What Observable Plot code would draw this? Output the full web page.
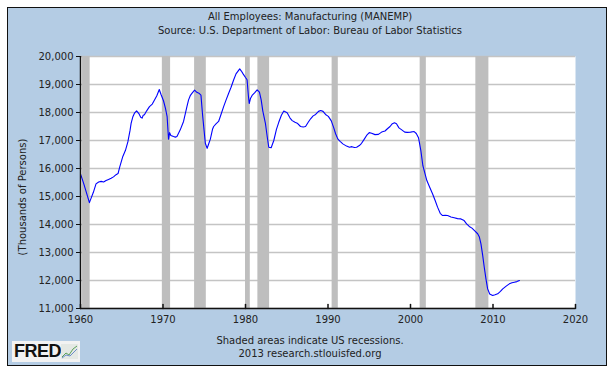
<!DOCTYPE html>
<html><head><meta charset="utf-8">
<script src="https://cdn.jsdelivr.net/npm/d3@7"></script>
<script src="https://cdn.jsdelivr.net/npm/@observablehq/plot@0.6"></script>
<style>
body{margin:0;background:#fff;font-family:"DejaVu Sans",sans-serif;}
#wrap{position:relative;width:615px;height:375px;overflow:hidden;}
#panel{position:absolute;left:7px;top:7px;width:598px;height:357px;border:1px solid #111;background:#b4cce4;}
.t{position:absolute;left:7px;width:606px;text-align:center;font-size:10px;color:#222;line-height:12px;}
#chart{position:absolute;left:0;top:0;}
#ylab{position:absolute;left:22px;top:197px;transform:translate(-50%,-50%) rotate(-90deg);font-size:10px;color:#222;white-space:nowrap;}
#logo{position:absolute;left:12px;top:341px;width:68px;height:21px;background:#f2f2f2;}
#logo span{position:absolute;left:2px;top:0;font-family:"Liberation Sans",Arial,sans-serif;font-weight:bold;font-size:18px;line-height:21px;letter-spacing:-0.5px;color:#111;}
#logo svg{position:absolute;left:49px;top:3px;}
</style></head>
<body>
<div id="wrap">
  <div id="panel"></div>
  <div class="t" style="top:11px">All Employees: Manufacturing (MANEMP)</div>
  <div class="t" style="top:25px">Source: U.S. Department of Labor: Bureau of Labor Statistics</div>
  <div id="ylab">(Thousands of Persons)</div>
  <div id="chart"></div>
  <div class="t" style="top:335px">Shaded areas indicate US recessions.</div>
  <div class="t" style="top:348px">2013 research.stlouisfed.org</div>
  <div id="logo"><span>FRED</span><svg width="17" height="15" viewBox="0 0 17 15"><rect x="0" y="0" width="17" height="15" fill="#e4e8e4"/><polyline points="1,13 5,9 8,11 12,5 16,2" fill="none" stroke="#5aa05a" stroke-width="1"/><polyline points="1,14 5,11 9,12 13,8 16,5" fill="none" stroke="#6a8cc8" stroke-width="1"/></svg></div>
</div>
<script>
const years = [1960.0,1960.4,1960.8,1961.08,1961.3,1961.56,1961.88,1962.2,1962.5,1962.8,1963.1,1963.4,1963.71,1964.0,1964.31,1964.55,1964.75,1965.13,1965.45,1965.74,1966.0,1966.14,1966.35,1966.54,1966.8,1967.1,1967.3,1967.47,1967.6,1967.75,1968.0,1968.36,1968.7,1968.97,1969.25,1969.55,1969.75,1970.06,1970.3,1970.5,1970.67,1970.8,1970.95,1971.28,1971.5,1971.69,1972.09,1972.49,1972.7,1972.9,1973.1,1973.3,1973.55,1973.83,1974.1,1974.35,1974.6,1974.8,1974.95,1975.13,1975.35,1975.5,1975.74,1976.0,1976.14,1976.45,1976.74,1977.0,1977.35,1977.65,1977.96,1978.25,1978.57,1978.85,1979.05,1979.3,1979.5,1979.71,1980.0,1980.19,1980.35,1980.45,1980.6,1980.8,1981.1,1981.41,1981.69,1981.9,1982.1,1982.42,1982.65,1982.82,1983.11,1983.43,1983.75,1984.03,1984.35,1984.64,1985.05,1985.4,1985.66,1986.0,1986.27,1986.67,1987.0,1987.28,1987.6,1987.89,1988.2,1988.5,1988.85,1989.11,1989.4,1989.7,1990.04,1990.4,1990.7,1990.92,1991.2,1991.5,1991.8,1992.25,1992.6,1992.9,1993.2,1993.47,1993.8,1994.07,1994.4,1994.68,1995.0,1995.29,1995.7,1996.11,1996.5,1996.91,1997.2,1997.52,1997.8,1998.06,1998.3,1998.6,1998.94,1999.3,1999.6,2000.0,2000.44,2000.7,2000.97,2001.25,2001.5,2001.98,2002.3,2002.67,2003.0,2003.28,2003.6,2003.89,2004.2,2004.5,2004.9,2005.3,2005.7,2006.11,2006.5,2006.8,2007.12,2007.45,2007.73,2008.14,2008.35,2008.54,2008.75,2008.94,2009.15,2009.35,2009.6,2009.96,2010.25,2010.57,2010.9,2011.18,2011.6,2011.98,2012.3,2012.59,2012.9,2013.2];
const employment = [15810,15450,15060,14780,14950,15150,15450,15520,15540,15520,15570,15610,15650,15700,15780,15820,16050,16430,16650,16950,17350,17620,17850,17975,18060,17950,17830,17800,17900,17920,18050,18210,18300,18450,18600,18820,18650,18420,18150,17850,17050,17280,17180,17140,17120,17140,17380,17680,17950,18210,18450,18600,18700,18800,18720,18690,18620,17900,17450,16900,16720,16850,17050,17400,17500,17600,17680,17900,18210,18450,18690,18900,19170,19380,19460,19560,19480,19380,19250,19170,18600,18320,18500,18610,18700,18810,18725,18450,18050,17600,17100,16760,16740,17000,17400,17650,17900,18050,17990,17800,17710,17650,17620,17500,17480,17500,17650,17775,17880,17930,18040,18070,18040,17930,17860,17700,17450,17240,17050,16960,16880,16800,16760,16780,16750,16760,16820,16900,17050,17180,17280,17260,17210,17220,17300,17340,17420,17500,17600,17630,17600,17450,17380,17300,17290,17300,17320,17250,17100,16650,16100,15570,15350,15100,14850,14620,14400,14320,14330,14320,14270,14240,14210,14200,14140,14020,13930,13870,13790,13670,13550,13310,12900,12475,12050,11700,11520,11465,11490,11525,11610,11700,11800,11880,11920,11940,11960,12000];
const recessionStart = [1960.25,1969.92,1973.83,1980.0,1981.5,1990.5,2001.17,2007.92];
const recessionEnd   = [1961.17,1970.92,1975.25,1980.58,1982.92,1991.25,2001.92,2009.5];
const xTicks = [1960,1970,1980,1990,2000,2010,2020];
const yTicks = [11000,12000,13000,14000,15000,16000,17000,18000,19000,20000];

const series = years.map((y, i) => ({date: y, value: employment[i]}));
const recessions = recessionStart.map((s, i) => ({start: s, end: recessionEnd[i]}));

const chart = Plot.plot({
  width: 615, height: 330,
  marginLeft: 80, marginRight: 40, marginTop: 56, marginBottom: 22,
  style: {background: "transparent", fontFamily: "DejaVu Sans", fontSize: "10px", color: "#222"},
  x: {domain: [1960, 2020]},
  y: {domain: [11000, 20000]},
  marks: [
    Plot.frame({fill: "white", stroke: null}),
    Plot.gridY(yTicks, {stroke: "#c4c4c4", strokeOpacity: 1, strokeWidth: 1.5}),
    Plot.rect(recessions, {x1: "start", x2: "end", fill: "#bebebe"}),
    Plot.line(series, {x: "date", y: "value", stroke: "#0000ff", strokeWidth: 1.1}),
    Plot.axisY({ticks: yTicks, tickSize: 4, tickPadding: 3, tickFormat: d3.format(","), label: null, stroke: "#111"}),
    Plot.axisX({ticks: xTicks, tickSize: 0, tickPadding: 7, tickFormat: d => String(d), label: null}),
    Plot.vector(xTicks, {x: d => d, frameAnchor: "bottom", length: 4, rotate: 0, anchor: "start", stroke: "#111",
      shape: {draw(ctx, l) { ctx.moveTo(0, 0); ctx.lineTo(0, -l); }}}),
    Plot.ruleX([1960], {stroke: "#111", strokeWidth: 1.5}),
    Plot.ruleY([11000], {stroke: "#111", strokeWidth: 1.5})
  ]
});
document.getElementById("chart").appendChild(chart);
</script>
</body></html>
